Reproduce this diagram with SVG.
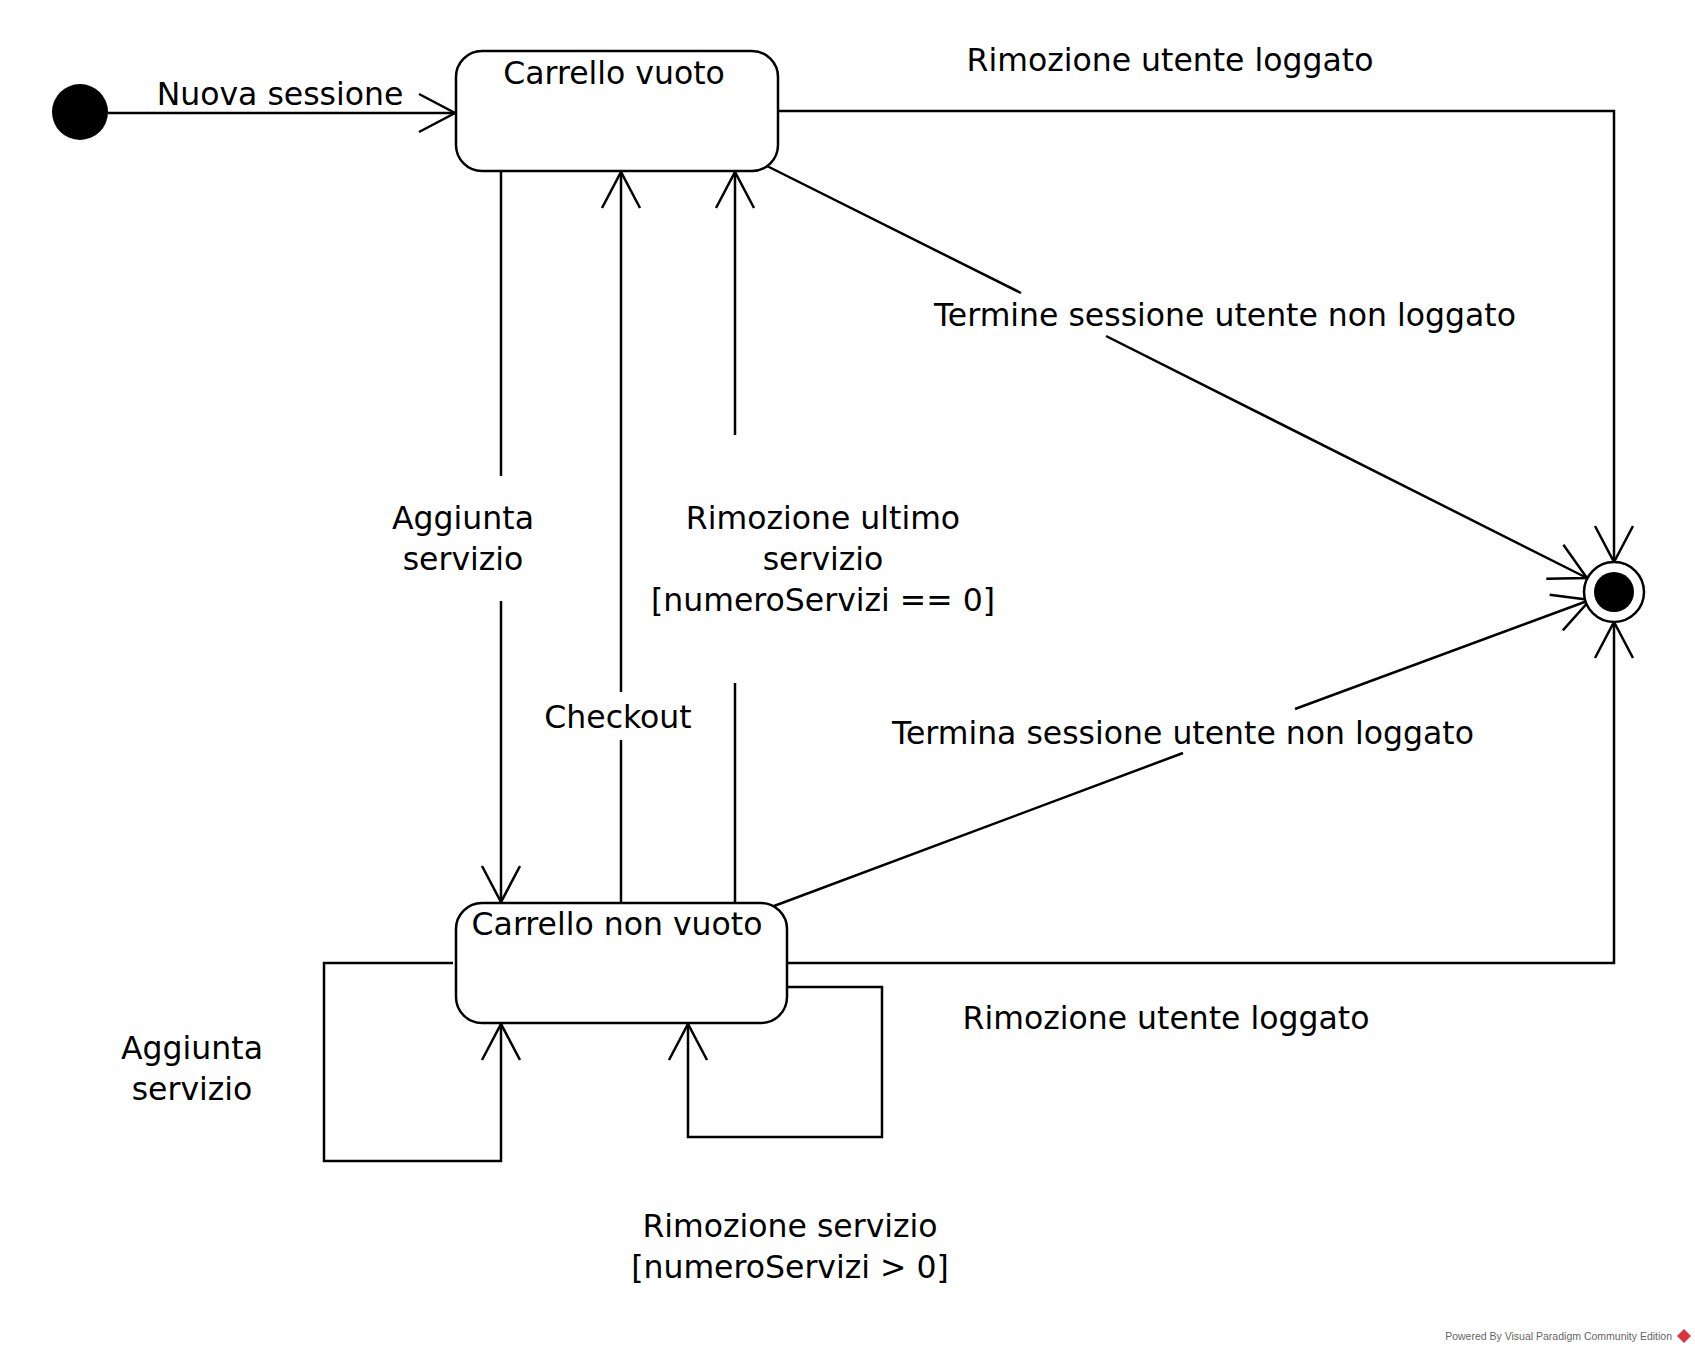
<svg xmlns="http://www.w3.org/2000/svg" width="1695" height="1353" viewBox="0 0 1695 1353">
<style>
.ln{fill:none;stroke:#000;stroke-width:2.5;stroke-linecap:butt;stroke-linejoin:miter}
.st{fill:#fff;stroke:#000;stroke-width:2.5}
.t{font-family:"DejaVu Sans",sans-serif;font-size:31.5px;fill:#000;text-anchor:middle}
.ft{font-family:"Liberation Sans",Arial,sans-serif;font-size:10.5px;fill:#666;text-anchor:end}
</style>
<defs>
<marker id="arr" markerUnits="userSpaceOnUse" markerWidth="50" markerHeight="50" viewBox="-40 -25 45 50" refX="0" refY="0" orient="auto" overflow="visible">
<path d="M-36,-19 L0,0 L-36,19" fill="none" stroke="#000" stroke-width="2.5"/>
</marker>
</defs>
<rect width="1695" height="1353" fill="#fff"/>
<g id="connectors">
<path class="ln" d="M108,113 L455,113" marker-end="url(#arr)"/>
<path class="ln" d="M778,111 L1614,111 L1614,562" marker-end="url(#arr)"/>
<path class="ln" d="M767,166 L1021,293"/>
<path class="ln" d="M1106,336 L1587,578" marker-end="url(#arr)"/>
<path class="ln" d="M774,906 L1183,753"/>
<path class="ln" d="M1295,709 L1590,600" marker-end="url(#arr)"/>
<path class="ln" d="M787,963 L1614,963 L1614,622" marker-end="url(#arr)"/>
<path class="ln" d="M501,171 L501,476"/>
<path class="ln" d="M501,601 L501,902" marker-end="url(#arr)"/>
<path class="ln" d="M621,902 L621,740"/>
<path class="ln" d="M621,692 L621,172" marker-end="url(#arr)"/>
<path class="ln" d="M735,902 L735,683"/>
<path class="ln" d="M735,435 L735,172" marker-end="url(#arr)"/>
<path class="ln" d="M453,963 L324,963 L324,1161 L501,1161 L501,1024" marker-end="url(#arr)"/>
<path class="ln" d="M787,987 L882,987 L882,1137 L688,1137 L688,1024" marker-end="url(#arr)"/>
</g>
<g id="labels">
<text class="t" x="280" y="105">Nuova sessione</text>
<text class="t" x="1170" y="71">Rimozione utente loggato</text>
<text class="t" x="1225" y="326">Termine sessione utente non loggato</text>
<text class="t" x="1183" y="744">Termina sessione utente non loggato</text>
<text class="t" x="1166" y="1029">Rimozione utente loggato</text>
<text class="t" x="463" y="529">Aggiunta</text>
<text class="t" x="463" y="570">servizio</text>
<text class="t" x="618" y="728">Checkout</text>
<text class="t" x="823" y="529">Rimozione ultimo</text>
<text class="t" x="823" y="570">servizio</text>
<text class="t" x="823" y="611">[numeroServizi == 0]</text>
<text class="t" x="192" y="1059">Aggiunta</text>
<text class="t" x="192" y="1100">servizio</text>
<text class="t" x="790" y="1237">Rimozione servizio</text>
<text class="t" x="790" y="1278">[numeroServizi &gt; 0]</text>
</g>
<g id="initial">
<circle cx="80" cy="112" r="28" fill="#000"/>
</g>
<g id="carrello-vuoto">
<rect class="st" x="456" y="51" width="322" height="120" rx="26" ry="26"/>
<text class="t" x="614" y="84">Carrello vuoto</text>
</g>
<g id="carrello-non-vuoto">
<rect class="st" x="456" y="903" width="331" height="120" rx="26" ry="26"/>
<text class="t" x="617" y="935">Carrello non vuoto</text>
</g>
<g id="final">
<circle cx="1614" cy="592" r="30" fill="#fff" stroke="#000" stroke-width="2.5"/>
<circle cx="1614" cy="592" r="20" fill="#000"/>
</g>
<g id="footer">
<text class="ft" x="1672" y="1340">Powered By Visual Paradigm Community Edition</text>
<path d="M1684,1329 L1691,1336 L1684,1343 L1677,1336 Z" fill="#d9333f"/>
</g>
</svg>
